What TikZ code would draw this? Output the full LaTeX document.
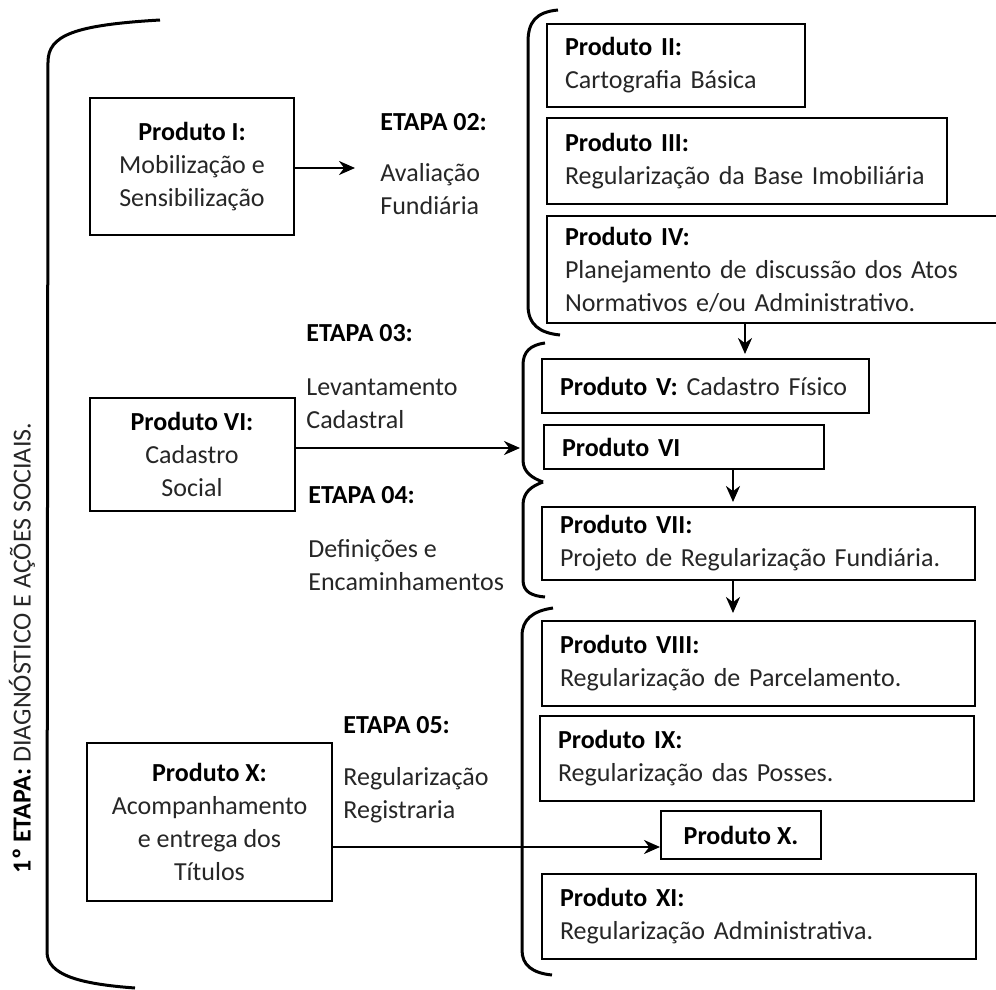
\documentclass[tikz,border=0pt]{standalone}
\usepackage{fontspec}
\setmainfont{Carlito}
\usetikzlibrary{arrows.meta}

\tikzset{
  every node/.style={font=\fontsize{13}{16.5}\selectfont, text=black!85},
  lbox/.style={draw, line width=1pt, align=center, inner sep=0pt},
  rbox/.style={draw, line width=1pt, align=left, anchor=north west, inner xsep=9pt, inner ysep=0pt},
  etapa/.style={anchor=west, align=left, inner sep=0pt},
  arr/.style={-{Stealth[length=8pt,width=7pt]}, line width=1.3pt},
  brk/.style={line width=1.5pt},
}
\newcommand{\pr}[1]{\textbf{\color{black}#1}}

\begin{document}
\begin{tikzpicture}[x=0.5pt,y=-0.5pt]
        \useasboundingbox (0,0) rectangle (996,990);

        % Brackets
        \draw[brk] (160,20) .. controls (75,25) and (48,35) .. (48,62) -- (47,952) .. controls (47,975) and (80,984) .. (135,988);
        \draw[brk] (558,10) .. controls (536,12) and (528,22) .. (528,42) -- (528,305) .. controls (528,325) and (540,333) .. (560,335);
        \draw[brk] (545,343) .. controls (530,345) and (523,352) .. (523,365) -- (523,460) .. controls (523,472) and (532,478) .. (543,482);
        \draw[brk] (543,482) .. controls (532,486) and (523,492) .. (523,505) -- (523,580) .. controls (523,592) and (532,596) .. (545,597);
        \draw[brk] (553,608) .. controls (532,611) and (522,620) .. (522,636) -- (522,950) .. controls (522,965) and (532,973) .. (552,975);

        % Stage title
        \node[rotate=90] (etapa1) at (22,648) {\pr{1º ETAPA:} DIAGNÓSTICO E AÇÕES SOCIAIS.};

        % Left boxes
        \node[lbox, minimum width=102pt, minimum height=68.5pt] (prodI) at (192,166.5)
            {\pr{Produto I:}\\ Mobilização e\\ Sensibilização};
        \node[lbox, minimum width=102.5pt, minimum height=56.5pt] (prodVIl) at (192,454.5)
            {\pr{Produto VI:}\\ Cadastro\\ Social};
        \node[lbox, minimum width=122.5pt, minimum height=79pt] (prodXl) at (209.5,822)
            {\pr{Produto X:}\\ Acompanhamento\\ e entrega dos\\ Títulos};

        % Stage labels
        \node[etapa] (e2) at (380,122) {\pr{ETAPA 02:}};
        \node[etapa] (aval) at (380,189.5) {Avaliação\\ Fundiária};
        \node[etapa] (e3) at (306,333) {\pr{ETAPA 03:}};
        \node[etapa] (lev) at (306,404) {Levantamento\\ Cadastral};
        \node[etapa] (e4) at (308,495) {\pr{ETAPA 04:}};
        \node[etapa] (defi) at (308,565) {Definições e\\ Encaminhamentos};
        \node[etapa] (e5) at (343,725) {\pr{ETAPA 05:}};
        \node[etapa] (regreg) at (343,795) {Regularização\\ Registraria};

        % Right boxes
        \node[rbox, text width=111pt, minimum height=41.5pt] (prodII) at (546,23)
            {\pr{Produto II:}\\ Cartografia Básica};
        \node[rbox, text width=182pt, minimum height=43pt] (prodIII) at (546,117)
            {\pr{Produto III:}\\ Regularização da Base Imobiliária};
        \node[rbox, text width=208pt, minimum height=53.5pt] (prodIV) at (546,215)
            {\pr{Produto IV:}\\ \makebox[208pt][s]{Planejamento de discussão dos Atos}\\ Normativos e/ou Administrativo.};
        \node[rbox, text width=145.5pt, minimum height=27pt] (prodV) at (541,358)
            {\mbox{\pr{Produto V:} Cadastro Físico}};
        \node[rbox, text width=122pt, minimum height=22pt] (prodVIr) at (543,424)
            {\mbox{\pr{Produto VI}}};
        \node[rbox, text width=198.5pt, minimum height=36.5pt] (prodVII) at (541,506)
            {\pr{Produto VII:}\\ Projeto de Regularização Fundiária.};
        \node[rbox, text width=198.5pt, minimum height=42.5pt] (prodVIII) at (541,620)
            {\pr{Produto VIII:}\\ Regularização de Parcelamento.};
        \node[rbox, text width=199pt, minimum height=42.5pt] (prodIX) at (539,715)
            {\pr{Produto IX:}\\ Regularização das Posses.};
        \node[lbox, minimum width=80pt, minimum height=24pt] (prodXr) at (741,835)
            {\pr{Produto X.}};
        \node[rbox, text width=199pt, minimum height=42.5pt] (prodXI) at (541,873)
            {\pr{Produto XI:}\\ Regularização Administrativa.};

        % Connectors
        \coordinate (a2) at (355,168);
        \coordinate (b3) at (520,448);
        \coordinate (c4) at (745,0);
        \coordinate (c6) at (733,0);
        \coordinate (c10) at (0,847);
        \draw[arr] (prodI.east |- a2) -- (a2);
        \draw[arr] (prodVIl.east |- b3) -- (b3);
        \draw[arr, shorten >=2pt] (prodIV.south -| c4) -- (prodV.north -| c4);
        \draw[arr, shorten >=2pt] (prodVIr.south -| c6) -- (prodVII.north -| c6);
        \draw[arr, shorten >=3.5pt] (prodVII.south -| c6) -- (prodVIII.north -| c6);
        \draw[arr] (prodXl.east |- c10) -- (prodXr.west |- c10);
\end{tikzpicture}
\end{document}
